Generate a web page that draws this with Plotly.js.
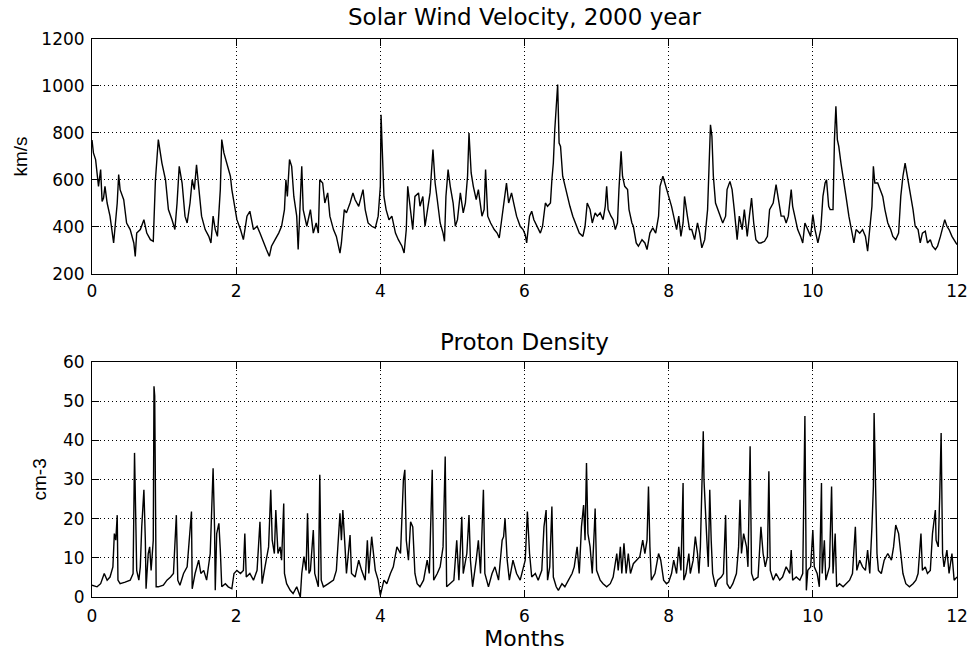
<!DOCTYPE html>
<html><head><meta charset="utf-8">
<script src="https://cdn.plot.ly/plotly-3.0.1.min.js"></script>
<style>html,body{margin:0;padding:0;background:#fff}</style>
</head><body><div id="chart" style="width:973px;height:651px"></div>
<script>
// ---- Solar wind velocity (km/s) vs month ----
const speedMonthsA = [
0.00,0.02,0.05,0.07,0.09,0.12,0.14,0.16,0.18,0.21,
0.25,0.30,0.35,0.37,0.39,0.44,0.48,0.53,0.58,0.60,
0.62,0.67,0.72,0.76,0.81,0.85,0.88,0.92,0.97,1.02,
1.06,1.11,1.15,1.18,1.21,1.25,1.29,1.32,1.36,1.39,
1.42,1.45,1.48,1.52,1.57,1.62,1.65,1.68,1.71,1.74,
1.78,1.80,1.83,1.87,1.92,1.94,1.97,2.01,2.06,2.10,
2.15,2.19,2.24,2.29,2.33,2.38,2.42,2.46,2.49,2.54,
2.59,2.63,2.67,2.69,2.71,2.74,2.77,2.80,2.84,2.86,
2.89,2.91,2.93,2.98,3.03,3.07,3.11,3.14,3.16,3.20,
3.23,3.27,3.30,3.35,3.39,3.44,3.46,3.50,3.53,3.58,
3.62,3.65,3.70,3.76,3.79,3.83,3.88,3.93,3.97];
const speedA = [
770,715,687,616,573,644,509,523,573,502,
446,332,502,623,559,516,417,389,332,275,
374,389,431,374,346,339,601,772,672,601,
474,431,389,502,658,587,446,417,502,601,
559,665,573,446,389,360,332,446,389,360,
559,772,715,672,616,559,502,431,389,346,
446,467,389,403,374,332,304,275,318,346,
374,403,474,601,530,687,658,530,446,304,
502,658,474,403,474,374,417,374,601,587,
502,545,446,389,360,289,332,474,460,502,
545,516,488,559,474,417,403,396,446];
const speedMonthsB = [
4.00,4.01,4.03,4.05,4.08,4.12,4.16,4.21,4.25,4.30,
4.33,4.36,4.38,4.42,4.45,4.48,4.53,4.55,4.59,4.62,
4.66,4.69,4.73,4.76,4.79,4.83,4.87,4.89,4.91,4.94,
4.97,5.01,5.04,5.07,5.11,5.15,5.18,5.21,5.23,5.26,
5.29,5.33,5.36,5.41,5.44,5.46,5.49,5.53,5.58,5.62,
5.65,5.69,5.72,5.75,5.78,5.82,5.86,5.89,5.94,5.98,
6.01,6.03,6.07,6.10,6.13,6.17,6.22,6.25,6.29,6.32,
6.36,6.38,6.40,6.42,6.45,6.46,6.48,6.50,6.53,6.56,
6.60,6.63,6.67,6.72,6.76,6.81,6.84,6.87,6.91,6.94,
6.98,7.01,7.05,7.09,7.12,7.14,7.16,7.20,7.23,7.26,
7.29,7.31,7.34,7.36,7.39,7.43,7.45,7.49,7.51,7.55,
7.58,7.63,7.67,7.70,7.74,7.78,7.82,7.86,7.88,7.92,
7.95];
const speedB = [
573,878,672,530,474,431,446,374,346,318,
289,389,573,474,389,530,545,488,530,403,
474,545,729,587,516,417,374,339,530,644,
573,502,403,431,545,460,502,616,800,630,
573,516,559,446,474,644,446,417,389,374,
353,446,530,587,502,545,488,446,403,389,
367,332,446,467,431,403,374,403,502,488,
502,601,672,814,956,1006,757,743,616,573,
516,488,446,403,374,360,403,502,474,417,
460,446,460,431,488,573,474,446,431,389,
417,559,722,616,573,559,474,417,403,332,
318,346,332,304,374,396,374,446,573,616,
587];
const speedMonthsC = [
8.00,8.04,8.07,8.11,8.14,8.17,8.20,8.22,8.26,8.29,
8.32,8.36,8.40,8.43,8.46,8.50,8.54,8.56,8.58,8.60,
8.62,8.65,8.68,8.72,8.75,8.79,8.81,8.85,8.88,8.91,
8.95,8.98,9.02,9.05,9.09,9.12,9.15,9.18,9.21,9.25,
9.28,9.33,9.37,9.40,9.45,9.49,9.52,9.56,9.60,9.63,
9.66,9.70,9.72,9.76,9.79,9.83,9.86,9.89,9.93,9.97,
10.00,10.03,10.07,10.11,10.14,10.17,10.19,10.22,10.24,10.28,
10.30,10.32,10.34,10.36,10.39,10.43,10.46,10.50,10.54,10.57,
10.60,10.65,10.69,10.73,10.76,10.79,10.82,10.84,10.86,10.90,
10.93,10.97,11.00,11.04,11.08,11.11,11.15,11.19,11.22,11.25,
11.28,11.32,11.35,11.39,11.42,11.46,11.49,11.52,11.56,11.59,
11.63,11.66,11.70,11.73,11.77,11.80,11.83,11.86,11.89,11.93,
11.96,12.00];
const speedC = [
530,488,446,389,446,360,417,530,446,389,
389,346,417,374,311,346,474,701,835,786,
616,502,474,446,417,446,559,594,559,474,
346,446,389,474,360,446,523,417,346,332,
332,339,360,474,502,580,530,446,446,417,
446,559,488,431,389,360,332,417,389,360,
453,389,332,389,530,587,601,488,474,474,
772,914,772,743,672,601,530,446,389,332,
389,374,389,360,297,389,488,658,587,587,
559,530,474,417,389,360,346,374,530,616,
672,601,530,474,403,389,332,374,382,332,
346,318,304,318,360,396,431,403,389,360,
346,325];

// ---- Proton density (cm-3) vs month ----
const densityMonthsA = [
0.00,0.07,0.12,0.17,0.21,0.25,0.29,0.31,0.33,0.35,
0.36,0.39,0.46,0.53,0.57,0.59,0.61,0.62,0.65,0.67,
0.69,0.72,0.74,0.75,0.78,0.80,0.82,0.85,0.86,0.87,
0.89,0.92,0.99,1.04,1.09,1.13,1.17,1.19,1.22,1.27,
1.32,1.34,1.38,1.39,1.43,1.48,1.51,1.55,1.59,1.64,
1.66,1.68,1.70,1.71,1.73,1.76,1.78,1.80,1.85,1.89,
1.94,1.97,2.01,2.06,2.10,2.12,2.14,2.19,2.24,2.29,
2.33,2.36,2.40,2.45,2.48,2.50,2.53,2.55,2.58,2.61,
2.63,2.66,2.67,2.70,2.75,2.79,2.84,2.89,2.91,2.94,
2.97,2.99,3.01,3.03,3.07,3.09,3.14,3.16,3.18,3.21,
3.28,3.35,3.39,3.44,3.46,3.48,3.51,3.53,3.58,3.60,
3.65,3.70,3.74,3.79,3.82,3.84,3.88,3.93,3.97];
const densityA = [
3.0,2.6,3.4,6.0,4.3,5.1,7.7,16.2,14.5,20.9,
4.3,3.4,3.8,4.3,6.0,36.8,17.1,6.8,4.3,7.7,
17.9,27.4,14.5,2.1,11.1,12.8,6.8,14.5,53.8,51.3,
2.6,2.6,3.0,4.3,5.1,6.0,20.9,4.3,3.0,6.0,
7.7,12.0,21.8,2.1,6.0,9.4,6.0,6.8,4.3,11.1,
21.4,32.9,17.9,1.7,16.2,18.8,12.0,2.6,3.4,2.6,
2.1,6.0,6.8,6.0,6.8,16.2,5.1,6.0,4.3,6.8,
19.2,3.4,7.7,12.8,27.4,14.5,11.1,22.2,11.1,12.8,
9.4,23.9,6.0,3.4,1.7,0.9,2.6,0.0,6.0,10.3,
6.8,21.4,6.0,6.8,17.1,6.0,2.6,31.2,4.3,2.6,
3.4,4.3,6.8,21.4,14.5,22.2,12.8,6.0,15.8,6.0,
5.1,9.4,6.8,4.3,14.5,6.0,15.4,6.8,4.3];
const densityMonthsB = [
4.00,4.05,4.09,4.14,4.18,4.23,4.28,4.32,4.34,4.36,
4.39,4.42,4.45,4.48,4.51,4.55,4.60,4.65,4.68,4.72,
4.74,4.79,4.83,4.87,4.90,4.92,4.97,5.02,5.06,5.09,
5.13,5.15,5.20,5.23,5.25,5.28,5.33,5.36,5.39,5.43,
5.45,5.50,5.55,5.59,5.64,5.69,5.71,5.73,5.76,5.79,
5.84,5.89,5.94,5.98,6.01,6.04,6.07,6.10,6.15,6.19,
6.24,6.27,6.30,6.32,6.35,6.38,6.40,6.44,6.47,6.52,
6.56,6.61,6.66,6.69,6.73,6.76,6.79,6.82,6.84,6.86,
6.88,6.91,6.94,6.97,6.98,7.00,7.05,7.09,7.14,7.19,
7.23,7.28,7.30,7.33,7.35,7.38,7.41,7.44,7.47,7.51,
7.56,7.60,7.64,7.67,7.70,7.72,7.74,7.76,7.81,7.86,
7.89,7.93,7.97];
const densityB = [
0.4,4.3,3.4,6.0,7.7,12.8,11.1,29.9,32.5,14.5,
9.4,19.2,17.9,6.0,3.4,2.6,4.3,9.4,6.0,32.5,
4.3,6.0,7.7,12.8,35.9,2.6,3.4,4.3,14.5,4.3,
20.5,6.0,11.1,20.9,9.4,2.6,9.4,14.5,6.0,27.4,
6.0,2.6,6.0,7.7,4.3,14.5,15.4,20.1,9.4,4.3,
9.4,6.0,4.3,7.7,9.4,21.8,11.1,5.1,6.0,4.3,
6.8,17.9,22.2,4.3,7.7,23.1,5.1,2.6,1.7,3.4,
2.6,4.3,6.0,7.7,12.8,6.0,17.9,23.5,14.5,34.2,
16.2,12.8,6.0,17.9,22.6,6.8,4.3,3.4,2.6,3.4,
5.1,11.1,6.8,12.8,6.0,13.7,6.0,11.1,6.0,8.5,
9.4,10.3,14.5,11.1,14.5,28.2,12.8,4.3,6.0,11.1,
9.4,4.3,3.4];
const densityMonthsC = [
8.00,8.04,8.07,8.11,8.14,8.17,8.20,8.21,8.24,8.28,
8.30,8.34,8.37,8.40,8.42,8.44,8.48,8.49,8.51,8.53,
8.55,8.57,8.59,8.61,8.65,8.68,8.73,8.76,8.79,8.81,
8.85,8.89,8.94,8.97,8.99,9.01,9.04,9.08,9.10,9.13,
9.15,9.18,9.24,9.28,9.31,9.34,9.37,9.39,9.41,9.45,
9.49,9.54,9.58,9.63,9.68,9.70,9.72,9.77,9.82,9.86,
9.89,9.91,9.93,9.97,10.00,10.02,10.06,10.09,10.12,10.13,
10.16,10.18,10.23,10.26,10.28,10.31,10.33,10.37,10.42,10.46,
10.51,10.55,10.59,10.61,10.65,10.69,10.73,10.76,10.79,10.82,
10.84,10.85,10.87,10.89,10.91,10.95,10.99,11.04,11.09,11.12,
11.15,11.19,11.22,11.25,11.29,11.34,11.39,11.43,11.46,11.50,
11.52,11.56,11.59,11.63,11.66,11.70,11.71,11.74,11.76,11.78,
11.80,11.82,11.86,11.89,11.93,11.96,12.00];
const densityC = [
3.8,6.0,9.4,6.0,12.8,6.8,29.1,4.3,6.0,11.1,
6.0,9.4,15.4,11.1,6.0,12.8,42.3,29.9,19.7,14.5,
7.7,27.4,14.5,6.0,2.6,4.3,5.1,6.0,20.9,3.4,
2.1,3.4,6.0,12.8,24.8,11.1,16.2,12.8,7.7,38.5,
6.0,4.3,5.1,17.9,11.1,7.7,10.3,32.1,6.8,4.3,
6.0,4.3,5.1,7.7,6.0,12.0,4.3,5.1,4.3,6.0,
46.2,1.7,6.8,7.7,17.1,7.7,6.0,2.6,29.1,6.0,
14.5,4.3,7.7,28.2,6.0,16.2,2.6,3.4,2.6,3.4,
4.3,6.0,17.9,6.8,9.4,7.7,6.8,12.0,6.0,17.9,
28.2,47.0,32.5,11.1,6.8,6.0,9.4,11.1,9.4,12.8,
18.4,16.2,11.1,6.0,3.4,2.6,3.4,4.3,6.0,16.2,
6.8,7.7,6.0,6.8,16.2,22.2,14.5,12.8,25.6,41.9,
11.1,7.7,12.0,6.0,11.1,4.3,5.1];

// ---- Tick labels ----
const monthTicks = [0, 2, 4, 6, 8, 10, 12];
const speedTicks = [200, 400, 600, 800, 1000, 1200];
const densityTicks = [0, 10, 20, 30, 40, 50, 60];

const speedMonths = speedMonthsA.concat(speedMonthsB, speedMonthsC);
const speed = speedA.concat(speedB, speedC);
const densityMonths = densityMonthsA.concat(densityMonthsB, densityMonthsC);
const density = densityA.concat(densityB, densityC);

const tickFont = {family: 'DejaVu Sans', size: 17, color: '#000'};
function axisBase() {
  return {
    showline: true, linecolor: '#000', linewidth: 1, mirror: 'ticks',
    ticks: 'inside', ticklen: 7, tickwidth: 1, tickcolor: '#000',
    showgrid: true, gridcolor: '#000', gridwidth: 1, griddash: '1px,3px',
    zeroline: false, tickfont: tickFont, fixedrange: true
  };
}

const traces = [
  {x: speedMonths, y: speed, type: 'scatter', mode: 'lines',
   line: {color: '#000', width: 1.4}, xaxis: 'x', yaxis: 'y', hoverinfo: 'skip'},
  {x: densityMonths, y: density, type: 'scatter', mode: 'lines',
   line: {color: '#000', width: 1.4}, xaxis: 'x2', yaxis: 'y2', hoverinfo: 'skip'}
];

const layout = {
  width: 973, height: 651,
  margin: {l: 92, r: 16, t: 39, b: 54},
  paper_bgcolor: '#fff', plot_bgcolor: '#fff', showlegend: false,
  title: {text: 'Solar Wind Velocity, 2000 year',
          font: {family: 'DejaVu Sans', size: 23, color: '#000'},
          x: 0.5, xref: 'paper', xanchor: 'center',
          y: 1 - 17 / 651, yref: 'container', yanchor: 'middle'},
  xaxis: Object.assign(axisBase(), {domain: [0, 1], range: [0, 12], tickvals: monthTicks,
          anchor: 'y', ticklabelstandoff: 2}),
  yaxis: Object.assign(axisBase(), {domain: [0.5789, 1], range: [200, 1200], tickvals: speedTicks,
          anchor: 'x', ticklabelstandoff: 3,
          title: {text: 'km/s', font: {family: 'Liberation Sans', size: 19, color: '#000'}, standoff: 8}}),
  xaxis2: Object.assign(axisBase(), {domain: [0, 1], range: [0, 12], tickvals: monthTicks,
          anchor: 'y2', ticklabelstandoff: 4,
          title: {text: 'Months', font: {family: 'DejaVu Sans', size: 22, color: '#000'}, standoff: 2}}),
  yaxis2: Object.assign(axisBase(), {domain: [0, 0.4211], range: [0, 60], tickvals: densityTicks,
          anchor: 'x2', ticklabelstandoff: 3}),
  annotations: [
    {text: 'Proton Density', xref: 'paper', yref: 'paper', x: 0.5, y: 0.4211,
     xanchor: 'center', yanchor: 'bottom', yshift: 5, showarrow: false,
     font: {family: 'DejaVu Sans', size: 23, color: '#000'}},
    {text: 'cm-3', xref: 'paper', yref: 'paper', x: 0, y: 0.4211 / 2,
     xanchor: 'center', yanchor: 'middle', xshift: -52, textangle: -90, showarrow: false,
     font: {family: 'Liberation Sans', size: 19, color: '#000'}}
  ]
};

Plotly.newPlot('chart', traces, layout, {staticPlot: true, displayModeBar: false});
</script>
</body></html>
